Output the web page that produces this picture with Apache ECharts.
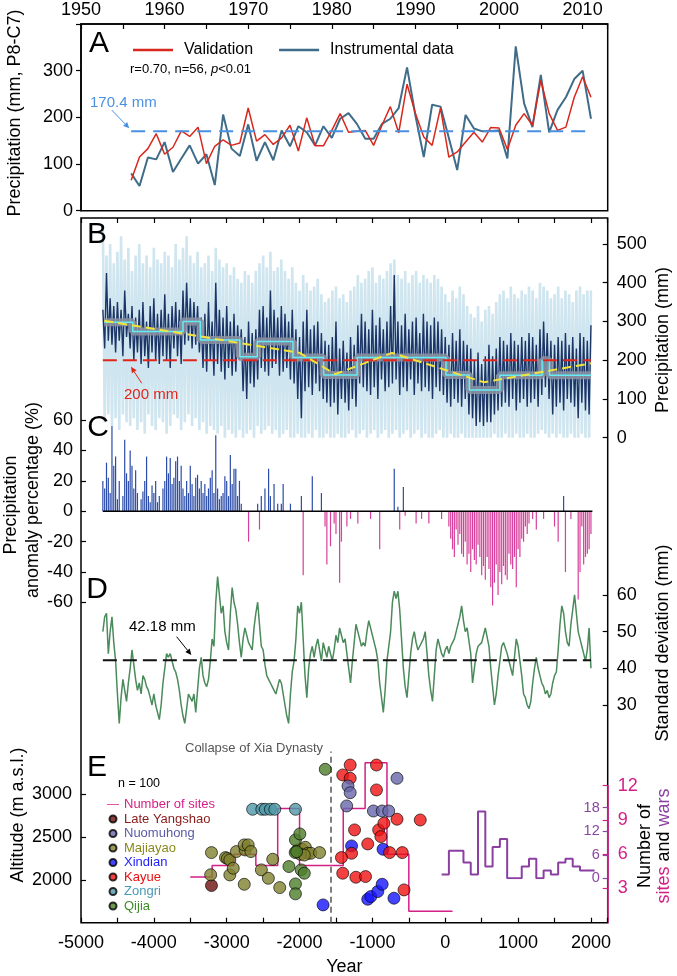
<!DOCTYPE html>
<html><head><meta charset="utf-8">
<script src="https://cdn.jsdelivr.net/npm/echarts@6/dist/echarts.min.js"></script>
<style>html,body{margin:0;padding:0;background:#fff}#c{width:677px;height:976px}</style>
</head><body><div id="c"></div>
<script>
// ---------------- DATA ----------------
// Panel A (annual, 1956-2011)
const aStartYear = 1956;
const validation = [65,115,133,165,121,136,171,159,179,101, 138,152,140,145,220,149,163,142,156,183, 128,199,139,139,172,208,168,170,172,140, 183,223,167,271,208,158,140,220,115,126, 147,168,147,178,177,131,183,208,183,279, 208,172,179,243,287,243];
const instrumental = [80,53,114,110,147,83,112,140,101,121, 55,206,133,117,185,107,147,108,172,138, 181,168,140,181,156,197,209,186,154,154, 186,197,220,307,204,115,227,223,156,87, 205,176,170,171,172,112,352,230,179,291, 168,216,243,282,300,197];
const aMean = 170.4;

// Panels B-D: series sampled every 25 years from -4700 to 2000
const seriesStart = -4700, seriesStep = 25;
// light-blue annual envelope (alternating high / low readings)
const annualRange = [
550,40,470,60, 500,30,450,50, 480,20,520,60, 460,40,490,30, 430,50,470,20, 500,40,450,10, 470,60,440,30, 490,20,460,50,
450,40,480,10, 470,30,440,60, 500,50,460,20, 490,40,520,60, 470,30,450,50, 480,20,440,40, 450,10,470,30, 430,20,490,10,
460,30,440,0, 450,20,420,10, 440,0,410,20, 400,0,430,10, 420,20,400,0, 430,30,450,10, 470,20,440,30, 480,10,430,20,
440,0,460,10, 430,20,410,0, 440,0,400,10, 380,0,420,0, 400,10,380,0, 390,20,410,0, 370,0,350,10, 360,0,380,0,
390,10,360,0, 370,0,350,10, 380,20,390,0, 420,10,400,20, 410,0,430,10, 440,20,400,0, 420,10,410,20, 430,0,450,10,
460,20,420,0, 410,10,430,20, 400,0,420,10, 430,20,400,0, 420,10,410,0, 400,0,420,10, 410,20,390,0, 370,0,350,10,
380,0,360,0, 390,10,370,0, 340,0,320,0, 310,0,340,0, 300,0,330,0, 340,0,320,10, 350,0,370,0, 380,10,360,0,
390,0,370,10, 360,0,380,0, 370,10,390,0, 380,0,360,10, 400,20,390,10, 380,0,360,10, 370,0,390,10, 360,0,380,0,
370,10,350,0, 380,0,390,10, 370,0,380,0, 380];
// dark-blue reconstruction (alternating high / low readings)
const reconstruction = [
330,230,425,250, 360,240,340,220, 350,250,330,210, 380,260,320,230, 340,200,310,220, 330,190,350,210, 300,180,340,220, 360,200,320,190,
330,210,370,200, 320,180,340,230, 350,210,330,190, 380,240,400,250, 360,230,350,240, 340,220,310,180, 320,170,350,200, 300,160,400,190,
330,170,310,150, 340,180,300,160, 320,170,290,200, 280,120,260,100, 300,140,270,130, 280,150,330,180, 340,170,310,160, 380,180,330,190,
310,160,340,170, 320,180,300,150, 330,140,280,100, 260,50,300,120, 330,130,280,110, 290,140,300,120, 270,100,250,90, 240,80,260,90,
300,60,230,100, 250,90,220,70, 260,100,240,80, 290,140,320,130, 300,120,280,110, 330,130,290,100, 310,150,280,120, 300,130,340,140,
420,150,300,110, 290,130,320,120, 280,150,300,110, 310,140,270,120, 320,130,300,120, 290,100,310,130, 300,120,280,110, 260,90,240,80,
270,100,250,90, 280,80,250,100, 240,60,230,50, 200,30,220,40, 190,30,210,40, 240,40,210,60, 230,70,260,80, 250,90,240,80,
270,100,250,70, 240,90,260,100, 250,80,270,90, 260,100,240,80, 280,110,300,130, 270,100,250,60, 240,80,260,90, 250,70,270,100,
240,90,260,80, 230,50,270,90, 260,70,250,60, 290];
// multi-centennial means (start years, values; last segment ends at stepEnd)
const stepStarts = [-4680,-4290,-3600,-3360,-2820,-2580,-2090,-1670,-1210,10,330,750,1330,1430];
const stepValues = [298,274,300,252,209,248,207,162,207,162,123,161,200,161];
const stepEnd = 2000;
// trend line and turning points
const trendYears = [-4680,-2000,-1510,-730,530,2000];
const trendValues = [302,219,164,219,143,192];
const refLevelB = 200;
// precipitation anomaly percentage (%)
const anomaly = [
20,15,32,22,12,75,30,36,8,20, 0,10,47,25,20,40,30,15,27,12, 0,8,13,20,36,10,6,17,12,20, 6,10,0,15,20,36,25,35,18,22,
33,36,20,30,15,10,20,12,30,18, 10,22,24,15,20,12,18,10,15,22, 27,12,50,15,8,10,12,23,20,10, 37,18,28,28,10,20,5,0,0,0,
-20,0,0,0,0,5,-12,10,0,15, 0,28,10,0,18,0,5,0,5,18, 0,0,0,5,0,0,0,0,0,10, -42,0,0,0,0,23,0,0,0,0,
12,0,-10,-35,0,-23,0,-8,-15,0, -47,-20,0,0,-10,0,-5,0,0,0, -8,0,0,0,0,0,0,-5,0,0, 0,0,-25,0,0,0,0,0,0,0,
28,0,3,-12,0,16,-3,0,0,0, 0,0,-8,0,0,-5,0,0,0,-8, 0,0,0,0,0,0,-5,0,0,0, -10,-18,-25,-30,-12,-22,-15,-28,-30,-20,
-35,-28,-40,-25,-32,-35,-22,-30,-42,-36, -45,-30,-38,-50,-62,-47,-35,-55,-40,-48, -36,-42,-45,-28,-35,-38,-30,-50,-25,-30,
-18,-20,-10,-15,-8,0,-5,0,-12,0, 0,0,-5,0,0,0,0,0,-10,0, -20,0,0,10,-40,0,0,-5,0,0, 0,-58,-40,-10,-35,-30,-28,-25,-15];
// standard deviation (mm)
const stdDev = [
50,54,55,44, 50,54,47,42, 33,25,32,37, 34,31,36,40, 45,41,37,34, 36,33,38,37, 35,34,32,30, 33,30,28,26,
30,36,40,44, 43,44,42,40, 39,37,34,30, 27,25,29,33, 32,31,33,28, 34,40,43,38, 36,35,37,42, 48,46,58,65,
60,55,57,50, 47,45,55,62, 58,56,52,47, 43,48,51,49, 47,46,45,51, 55,58,52,46, 45,41,38,37, 36,35,34,33,
35,37,36,33, 30,27,25,33, 39,42,48,57, 55,58,48,38, 32,40,44,46, 43,46,48,45, 42,47,45,43, 46,44,42,45,
49,47,51,49, 47,48,44,40, 36,42,47,52, 50,48,46,47, 46,50,53,51, 49,47,45,42, 36,32,28,34, 42,46,50,58,
61,59,61,56, 48,40,35,32, 38,44,48,50, 47,45,46,46, 48,50,44,38, 34,31,38,45, 48,46,44,43, 45,46,44,46,
47,48,50,50, 54,57,53,50, 51,51,44,36, 40,44,46,46, 47,49,51,51, 46,40,35,30, 33,38,42,46, 47,47,44,42,
40,38,43,48, 46,42,38,33, 32,30,29,31, 36,40,43,40, 38,36,35,33, 34,32,33,36, 38,39,45,52, 57,55,50,47,
46,52,56,60, 55,50,48,46, 44,42,45,51, 40];
const stdMean = 42.18;

// Panel E: sites [year, altitude m]
const lateYangshao = [[-3209,1934]];
const nuomuhong = [[-1335,3097],[-1305,3019],[-1353,2864],[-986,2805],[-866,2805],[-776,2805],[-662,3187]];
const majiayao = [[-3209,2319],[-3220,2060],[-3017,2261],[-2990,2250],[-2957,2233],[-2867,2331],[-2957,2058],[-2910,2136],[-2747,2350],[-2760,2409],[-2705,2409],[-2668,2331],[-2759,1949],[-2524,2117],[-2428,2019],[-2368,2241],[-2272,1910],[-2026,2350],[-1966,2358],[-1920,2381],[-1887,2311],[-1845,2311],[-1725,2319],[-1990,2300],[-1935,2290]];
const xindian = [[-1677,1708],[-1286,2397],[-1064,1774],[-1022,1805],[-926,1864],[-866,1949],[-854,2358],[-704,1786]];
const kayue = [[-1407,3226],[-1305,3342],[-1305,3187],[-1245,2584],[-1286,2311],[-1425,2261],[-1407,2078],[-1227,2031],[-1094,2039],[-1064,2420],[-944,3342],[-944,3051],[-914,2584],[-884,2506],[-842,2662],[-764,2319],[-662,2709],[-590,2319],[-566,1883],[-343,2700]];
const zongri = [[-2644,2825],[-2518,2825],[-2470,2825],[-2400,2825],[-2340,2825],[-2056,2825]];
const qijia = [[-2146,2156],[-2056,2467],[-1996,2537],[-1978,2117],[-1935,2078],[-2056,1953],[-2056,1837],[-1647,3292],[-2060,2320],[-2040,2330]];
// number of sites (300-yr bins) and wars (100-yr bins): [bin start, count]
const sitesBins = [[-3500,4],[-3200,5],[-2900,6],[-2600,5],[-2300,10],[-2000,5],[-1400,10],[-1100,14],[-800,6],[-500,1],[-200,1]];
const warsBins = [[-50,1],[50,7],[250,4],[350,1],[450,17],[550,3],[650,8],[750,10],[850,0],[1050,3],[1150,5],[1250,0],[1350,2],[1450,1],[1550,4],[1650,5],[1750,3],[1850,2],[1950,2]];
const xiaCollapseYear = -1570;

// tick labels
const aYTicks = [0,100,200,300];
const bYTicks = [0,100,200,300,400,500];
const cYTicks = [-60,-40,-20,0,20,40,60];
const dYTicks = [30,40,50,60];
const eYTicks = [2000,2500,3000];
const sitesTicks = [3,6,9,12];
const yearTicks = [-5000,-4000,-3000,-2000,-1000,0,1000,2000];

// ---------------- CHART ----------------
const FONT = 'Liberation Sans, Arial, Helvetica, sans-serif';
const L = 81, W = 526.7;
const XMIN = -5000, XMAX = 2230;
const ser = arr => arr.map((v,i)=>[seriesStart + seriesStep*i, v]);
const plain = v => String(v);

const chart = echarts.init(document.getElementById('c'), null, {renderer:'canvas', width:677, height:976});

const axisLineBlack = {show:true, onZero:false, lineStyle:{color:'#000', width:1.5}};
const noLine = {show:false, onZero:false};
const tickBlack = {lineStyle:{color:'#000', width:1.2}};
const lab = (o) => Object.assign({color:'#000', fontSize:18, fontFamily:FONT, formatter:plain}, o||{});

function g(top, height, extra){ return Object.assign({left:L, width:W, top, height, containLabel:false, outerBoundsMode:'none'}, extra||{}); }
const frame = {show:true, borderColor:'#000', borderWidth:1.5, backgroundColor:'transparent'};

const hiddenX = (gi) => ({type:'value', gridIndex:gi, min:XMIN, max:XMAX, show:false, axisLine:noLine});

function arrow(x1,y1,x2,y2,color){
  const dx=x2-x1, dy=y2-y1, len=Math.hypot(dx,dy), ux=dx/len, uy=dy/len, hl=6, hw=2.8;
  const bx=x2-ux*hl, by=y2-uy*hl;
  return [
    {type:'line', silent:true, z:100, shape:{x1,y1,x2:bx,y2:by}, style:{stroke:color, lineWidth:1}},
    {type:'polygon', silent:true, z:100, shape:{points:[[x2,y2],[bx-uy*hw,by+ux*hw],[bx+uy*hw,by-ux*hw]]}, style:{fill:color}}
  ];
}
function txt(x,y,text,o){
  o = o||{};
  return {type:'text', x, y, rotation:o.rot||0, silent:true, z:100,
    style:Object.assign({text, fill:o.color||'#000', fontSize:o.size||18, fontFamily:FONT,
      align:o.align||'center', verticalAlign:'middle'}, o.extra||{})};
}
const R = Math.PI/2;
const LINE_ICON = 'path://M0,0L32,0L32,2L0,2Z';

const scatterStyle = (color) => ({color, borderColor:'#000', borderWidth:0.8});
function sc(name, data, color){
  return {name, type:'scatter', xAxisIndex:6, yAxisIndex:5, data, symbol:'circle', symbolSize:12, itemStyle:scatterStyle(color), z:5};
}

const sitesStep = sitesBins.concat([[sitesBins[sitesBins.length-1][0]+300, sitesBins[sitesBins.length-1][1]]]);
const warsStep = warsBins.concat([[warsBins[warsBins.length-1][0]+100, warsBins[warsBins.length-1][1]]]);
const stepData = stepStarts.map((y,i)=>[y, stepValues[i]]).concat([[stepEnd, stepValues[stepValues.length-1]]]);
const trendData = trendYears.map((y,i)=>[y, trendValues[i]]);

const option = {
  animation:false,
  backgroundColor:'#fff',
  textStyle:{fontFamily:FONT},
  grid:[
    g(24, 186.7, frame),        // 0 A
    g(218, 704.7, frame),       // 1 frame B-E
    g(218, 219.7),              // 2 B
    g(389.7, 243.2),            // 3 C
    g(558.2, 183.5),            // 4 D
    g(751.5, 171.2),            // 5 E
    g(807.7, 70.6),             // 6 wars
    g(785.7, 137)               // 7 sites
  ],
  xAxis:[
    {type:'value', gridIndex:0, position:'top', min:1950, max:2013, interval:5,
      axisLine:axisLineBlack, axisTick:Object.assign({inside:true, length:5}, tickBlack),
      axisLabel:lab({margin:5, formatter:v => (v%10===0 ? String(v) : '')}), splitLine:{show:false}},
    {type:'value', gridIndex:1, position:'top', min:XMIN, max:XMAX, interval:500,
      axisLine:noLine, axisTick:Object.assign({inside:true, length:5}, tickBlack),
      axisLabel:{show:false}, splitLine:{show:false}},
    {type:'value', gridIndex:1, position:'bottom', min:XMIN, max:XMAX, interval:500,
      axisLine:noLine, axisTick:Object.assign({inside:true, length:5}, tickBlack),
      axisLabel:lab({margin:11, customValues:yearTicks}), splitLine:{show:false},
      name:'Year', nameLocation:'middle', nameGap:35, nameTextStyle:{color:'#000', fontSize:18, fontFamily:FONT}},
    hiddenX(2), hiddenX(3), hiddenX(4), hiddenX(5), hiddenX(6), hiddenX(7)
  ],
  yAxis:[
    {type:'value', gridIndex:0, min:0, max:400, interval:100,
      axisLine:axisLineBlack, axisTick:Object.assign({inside:false, length:5}, tickBlack),
      axisLabel:lab({margin:8, formatter:v => (aYTicks.indexOf(v)>=0 ? String(v) : '')}), splitLine:{show:false}},
    {type:'value', gridIndex:1, show:false, axisLine:noLine},
    {type:'value', gridIndex:2, position:'right', min:0, max:567,
      axisLine:noLine, axisTick:Object.assign({inside:true, length:5, customValues:bYTicks}, tickBlack),
      axisLabel:lab({margin:9, customValues:bYTicks}), splitLine:{show:false}},
    {type:'value', gridIndex:3, position:'left', min:-80, max:80,
      axisLine:noLine, axisTick:Object.assign({inside:true, length:5, customValues:cYTicks}, tickBlack),
      axisLabel:lab({margin:8, customValues:cYTicks}), splitLine:{show:false}},
    {type:'value', gridIndex:4, position:'right', min:20, max:70,
      axisLine:noLine, axisTick:Object.assign({inside:true, length:5, customValues:dYTicks}, tickBlack),
      axisLabel:lab({margin:9, customValues:dYTicks}), splitLine:{show:false}},
    {type:'value', gridIndex:5, position:'left', min:1500, max:3500,
      axisLine:noLine, axisTick:Object.assign({inside:true, length:5, customValues:eYTicks}, tickBlack),
      axisLabel:lab({margin:9, customValues:eYTicks}), splitLine:{show:false}},
    {type:'value', gridIndex:6, position:'right', min:0, max:18, interval:6,
      axisLine:{show:true, onZero:false, lineStyle:{color:'#8b46a3', width:1.5}},
      axisTick:{inside:true, length:5, lineStyle:{color:'#8b46a3', width:1.2}},
      axisLabel:{inside:true, margin:8, color:'#8b46a3', fontSize:14.5, fontFamily:FONT, formatter:plain}, splitLine:{show:false}},
    {type:'value', gridIndex:7, position:'right', min:0, max:12,
      axisLine:{show:true, onZero:false, lineStyle:{color:'#d41f85', width:1.5}},
      axisTick:{inside:true, length:5, customValues:sitesTicks, lineStyle:{color:'#d41f85', width:1.2}},
      axisLabel:{margin:10, customValues:sitesTicks, color:'#d41f85', fontSize:18, fontFamily:FONT, formatter:plain}, splitLine:{show:false}}
  ],
  legend:[
    {data:[{name:'Validation', icon:LINE_ICON}, {name:'Instrumental data', icon:LINE_ICON}], left:128, top:37, orient:'horizontal', itemWidth:40, itemHeight:14, itemGap:26,
      textStyle:{color:'#000', fontSize:16, fontFamily:FONT, padding:[0,0,0,6]}, selectedMode:false},
    {data:[
        {name:'Number of sites', icon:LINE_ICON, textStyle:{color:'#d41f85'}},
        {name:'Late Yangshao', icon:'circle', textStyle:{color:'#8b1a1a'}},
        {name:'Nuomuhong', icon:'circle', textStyle:{color:'#5a5aa8'}},
        {name:'Majiayao', icon:'circle', textStyle:{color:'#8a8a1e'}},
        {name:'Xindian', icon:'circle', textStyle:{color:'#2222ff'}},
        {name:'Kayue', icon:'circle', textStyle:{color:'#e81010'}},
        {name:'Zongri', icon:'circle', textStyle:{color:'#4a9ab5'}},
        {name:'Qijia', icon:'circle', textStyle:{color:'#3c8c28'}}
      ], left:102, top:793, orient:'vertical', itemWidth:12, itemHeight:7, itemGap:1.5,
      textStyle:{fontSize:13, fontFamily:FONT, padding:[0,0,0,0]}, selectedMode:false}
  ],
  series:[
    // ---- A ----
    {name:'Instrumental data', type:'line', xAxisIndex:0, yAxisIndex:0, symbol:'none',
      data:instrumental.map((v,i)=>[aStartYear+i, v]), lineStyle:{color:'#3f6d89', width:2}, itemStyle:{color:'#3f6d89'}},
    {name:'Validation', type:'line', xAxisIndex:0, yAxisIndex:0, symbol:'none',
      data:validation.map((v,i)=>[aStartYear+i, v]), lineStyle:{color:'#d8281d', width:1.5}, itemStyle:{color:'#d8281d'}},
    {type:'line', xAxisIndex:0, yAxisIndex:0, symbol:'none', silent:true,
      data:[[aStartYear, aMean],[aStartYear+validation.length-1, aMean]], lineStyle:{color:'#4a90e2', width:2, type:[14,8]}},
    // ---- B ----
    {type:'line', xAxisIndex:3, yAxisIndex:2, symbol:'none', silent:true, data:ser(annualRange),
      lineStyle:{color:'#cfe5ef', width:2.6}},
    {type:'line', xAxisIndex:3, yAxisIndex:2, symbol:'none', silent:true, data:ser(reconstruction),
      lineStyle:{color:'#1c3567', width:1.4}},
    {type:'line', xAxisIndex:3, yAxisIndex:2, symbol:'none', silent:true, step:'end', data:stepData,
      lineStyle:{color:'rgba(140,146,162,0.85)', width:8}},
    {type:'line', xAxisIndex:3, yAxisIndex:2, symbol:'none', silent:true, step:'end', data:stepData,
      lineStyle:{color:'#63eef5', width:1.5}},
    {type:'line', xAxisIndex:3, yAxisIndex:2, symbol:'none', silent:true,
      data:[[seriesStart, refLevelB],[stepEnd, refLevelB]], lineStyle:{color:'#e3241b', width:2, type:[14,6]}},
    {type:'line', xAxisIndex:3, yAxisIndex:2, symbol:'none', silent:true, data:trendData,
      lineStyle:{color:'#f3e43c', width:2, type:[9,5]}},
    {type:'scatter', xAxisIndex:3, yAxisIndex:2, silent:true, data:trendData.slice(1, trendData.length-1),
      symbol:'circle', symbolSize:12, itemStyle:{color:'rgba(0,0,0,0)', borderColor:'#d4237a', borderWidth:2}},
    // ---- C ----
    {type:'bar', xAxisIndex:4, yAxisIndex:3, silent:true, barWidth:1.2,
      data:ser(anomaly).filter(d=>d[1]>0), itemStyle:{color:'#2b4ca8'}},
    {type:'bar', xAxisIndex:4, yAxisIndex:3, silent:true, barWidth:1.2, barGap:'-100%',
      data:ser(anomaly).filter(d=>d[1]<0), itemStyle:{color:'#d6409a'}},
    {type:'line', xAxisIndex:4, yAxisIndex:3, symbol:'none', silent:true,
      data:[[seriesStart,0],[stepEnd+20,0]], lineStyle:{color:'#000', width:1.5}},
    // ---- D ----
    {type:'line', xAxisIndex:5, yAxisIndex:4, symbol:'none', silent:true, data:ser(stdDev),
      lineStyle:{color:'#4b8a5b', width:1.5}},
    {type:'line', xAxisIndex:5, yAxisIndex:4, symbol:'none', silent:true,
      data:[[seriesStart, stdMean],[stepEnd, stdMean]], lineStyle:{color:'#111', width:2, type:[14,6]}},
    // ---- E ----
    {name:'Number of sites', type:'line', xAxisIndex:8, yAxisIndex:7, symbol:'none', step:'end', clip:false,
      data:sitesStep, lineStyle:{color:'#d41f85', width:1.5}, itemStyle:{color:'#d41f85'}},
    {name:'Number of wars', type:'line', xAxisIndex:7, yAxisIndex:6, symbol:'none', step:'end',
      data:warsStep, lineStyle:{color:'#8b3fa2', width:2}, itemStyle:{color:'#8b3fa2'}},
    Object.assign(sc('Late Yangshao', lateYangshao, '#6e1010'), {
      markLine:{symbol:'none', silent:true, label:{show:false}, lineStyle:{color:'#555', width:1.5, type:[6,4]},
        data:[{xAxis:xiaCollapseYear}]}}),
    sc('Majiayao', majiayao, '#7f7f2e'),
    sc('Qijia', qijia, '#4d7d2a'),
    sc('Zongri', zongri, '#4f97a8'),
    sc('Xindian', xindian, '#1515ff'),
    sc('Kayue', kayue, '#ee1111'),
    sc('Nuomuhong', nuomuhong, '#6767aa')
  ],
  graphic:[
    txt(99,44,'A',{size:30}), txt(97,235,'B',{size:30}), txt(98,428,'C',{size:30}), txt(97,590,'D',{size:30}), txt(97,768,'E',{size:30}),
    {type:'text', x:130, y:69, silent:true, z:100, style:{text:'{n|r=0.70, n=56, }{i|p}{n|<0.01}', fill:'#000', align:'left', verticalAlign:'middle',
      rich:{n:{fontSize:13, fontFamily:FONT, fill:'#000'}, i:{fontSize:13, fontFamily:FONT, fontStyle:'italic', fill:'#000'}}}},
    txt(90,103,'170.4 mm',{size:15, color:'#4a90e2', align:'left'}),
    ...arrow(111.7,110,129.3,128.3,'#4a90e2'),
    txt(124,395,'200 mm',{size:15, color:'#e3241b', align:'left'}),
    ...arrow(141.7,383.3,131,366.7,'#e3241b'),
    txt(129,627,'42.18 mm',{size:15, align:'left'}),
    ...arrow(176.6,636.7,191.3,655,'#000'),
    txt(118,784,'n = 100',{size:12.5, align:'left'}),
    txt(323,748,'Collapse of Xia Dynasty',{size:13, color:'#555', align:'right'}),
    txt(15,113,'Precipitation (mm, P8-C7)',{rot:R}),
    txt(663,340,'Precipitation (mm)',{rot:R}),
    txt(11,505,'Precipitation',{rot:R}),
    txt(33,500,'anomaly percentage (%)',{rot:R}),
    txt(663,643,'Standard deviation (mm)',{rot:R}),
    txt(18,815,'Altitude (m a.s.l.)',{rot:R}),
    txt(645,846,'Number of',{rot:R}),
    {type:'text', x:664, y:846, rotation:R, silent:true, z:100, style:{text:'{s|sites}{k| and }{w|wars}', align:'center', verticalAlign:'middle',
      rich:{s:{fontSize:18, fontFamily:FONT, fill:'#d41f85'}, k:{fontSize:18, fontFamily:FONT, fill:'#000'}, w:{fontSize:18, fontFamily:FONT, fill:'#8b3fa2'}}}}
  ]
};
chart.setOption(option);
</script>
</body></html>
